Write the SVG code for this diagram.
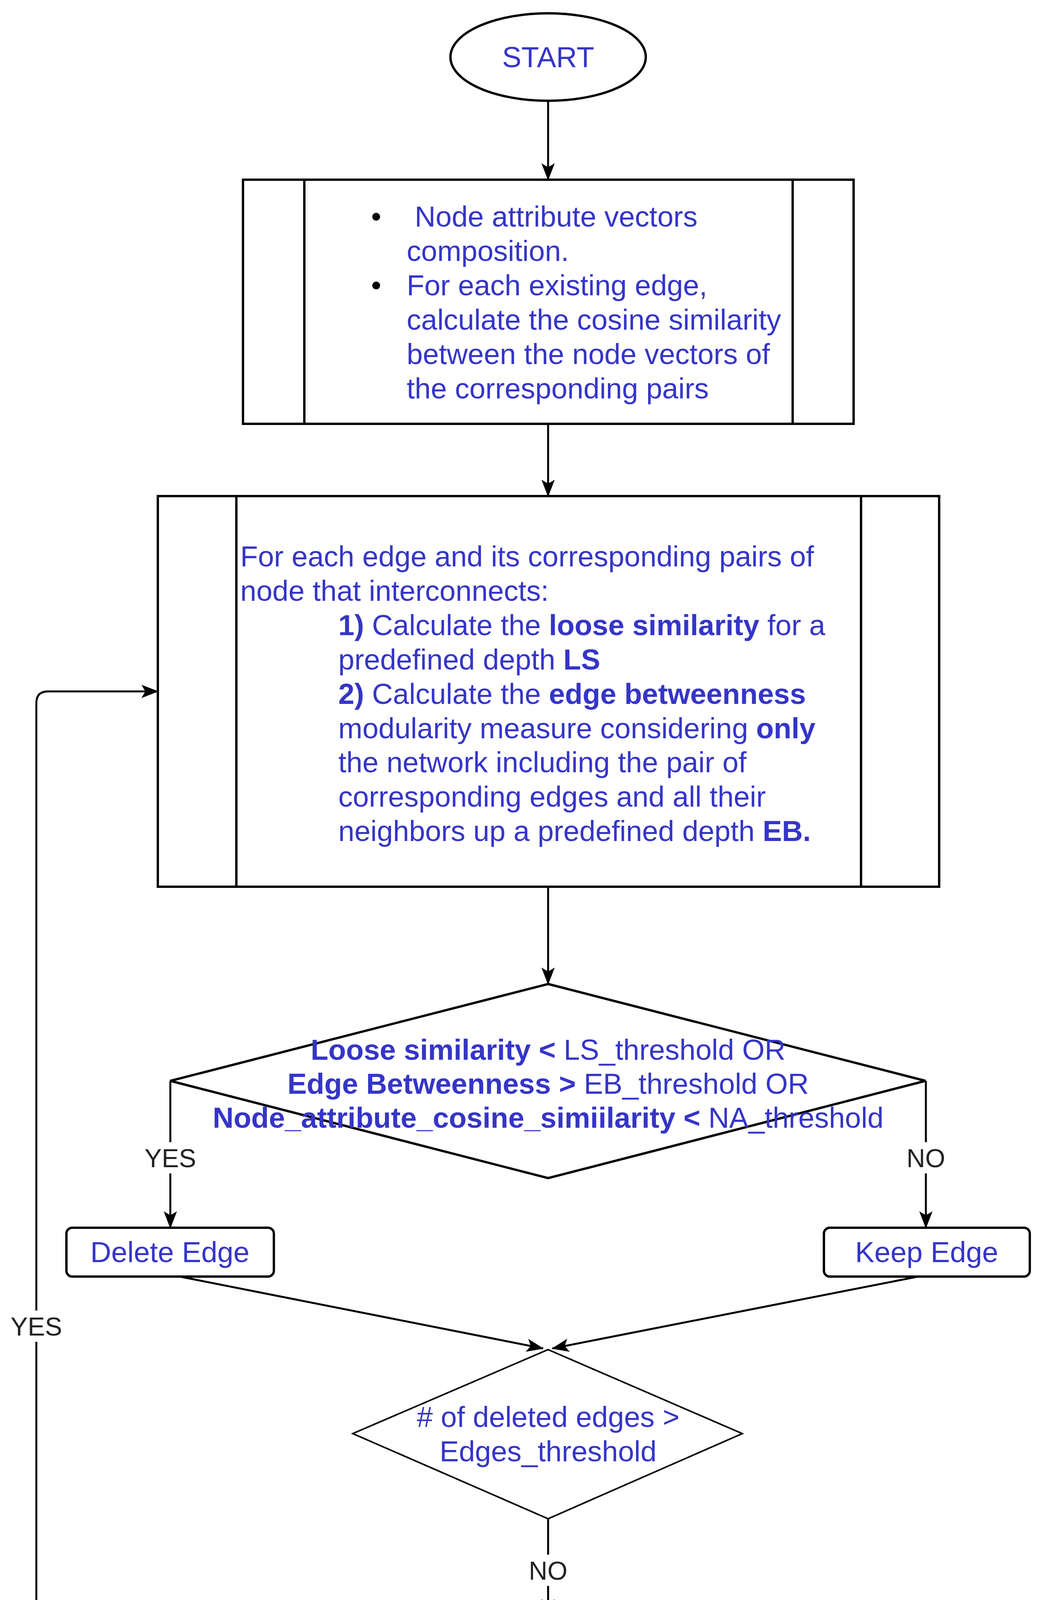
<svg xmlns="http://www.w3.org/2000/svg" width="2657" height="4424" viewBox="0 0 2657 4424">
<style>
.t{font-family:"Liberation Sans",Arial,sans-serif;font-size:74px;fill:#3535C8}
.b{font-weight:bold}
.c{text-anchor:middle}
.lbl{font-family:"Liberation Sans",Arial,sans-serif;font-size:66px;fill:#222;text-anchor:middle}
.shape{fill:#fff;stroke:#000;stroke-width:6}
.thin{stroke-width:4}
.edge{fill:none;stroke:#000;stroke-width:5}
.bul{font-family:"Liberation Sans",Arial,sans-serif;font-size:74px;fill:#000}
</style>
<defs>
<marker id="arr" markerUnits="userSpaceOnUse" viewBox="0 0 44 34" refX="42" refY="17" markerWidth="44" markerHeight="34" orient="auto"><path d="M0,0 L44,17 L0,34 L10,17 Z" fill="#000"/></marker>
</defs>
<rect width="2657" height="4424" fill="#fff"/>
<g id="connectors">
<path class="edge" d="M1403 258 V460" marker-end="url(#arr)"/>
<path class="edge" d="M1403 1085 V1270" marker-end="url(#arr)"/>
<path class="edge" d="M1403 2270 V2519" marker-end="url(#arr)"/>
<path class="edge" d="M436 2767 V3143" marker-end="url(#arr)"/>
<path class="edge" d="M2370 2767 V3143" marker-end="url(#arr)"/>
<path class="edge" d="M460 3268 L1390 3452" marker-end="url(#arr)"/>
<path class="edge" d="M2350 3268 L1414 3452" marker-end="url(#arr)"/>
<path class="edge" d="M1403 3888 V4136" marker-end="url(#arr)"/>
<path class="edge" d="M1153 4260 H123 Q93 4260 93 4230 V1800 Q93 1770 123 1770 H404" marker-end="url(#arr)"/>
<rect x="366" y="2924" width="140" height="80" fill="#fff"/>
<text class="lbl" x="436" y="2988">YES</text>
<rect x="2310" y="2924" width="120" height="80" fill="#fff"/>
<text class="lbl" x="2370" y="2988">NO</text>
<rect x="1343" y="3980" width="120" height="80" fill="#fff"/>
<text class="lbl" x="1403" y="4044">NO</text>
<rect x="23" y="3355" width="140" height="80" fill="#fff"/>
<text class="lbl" x="93" y="3419">YES</text>
</g>
<g id="start">
<ellipse class="shape" cx="1403" cy="146" rx="250" ry="112"/>
<text class="t c" x="1403" y="172">START</text>
</g>
<g id="box1">
<rect class="shape" x="622" y="460" width="1563" height="625"/>
<line x1="779" y1="460" x2="779" y2="1085" stroke="#000" stroke-width="6"/>
<line x1="2029" y1="460" x2="2029" y2="1085" stroke="#000" stroke-width="6"/>
<text class="bul" x="950" y="580">•</text>
<text class="bul" x="950" y="756">•</text>
<text class="t" x="1041" y="580" xml:space="preserve"> Node attribute vectors</text>
<text class="t" x="1041" y="668">composition.</text>
<text class="t" x="1041" y="756">For each existing edge,</text>
<text class="t" x="1041" y="844">calculate the cosine similarity</text>
<text class="t" x="1041" y="932">between the node vectors of</text>
<text class="t" x="1041" y="1020">the corresponding pairs</text>
</g>
<g id="box2">
<rect class="shape" x="404" y="1270" width="2000" height="1000"/>
<line x1="605" y1="1270" x2="605" y2="2270" stroke="#000" stroke-width="6"/>
<line x1="2204" y1="1270" x2="2204" y2="2270" stroke="#000" stroke-width="6"/>
<text class="t" x="615" y="1450">For each edge and its corresponding pairs of</text>
<text class="t" x="615" y="1538">node that interconnects:</text>
<text class="t" x="866" y="1626"><tspan class="b">1)</tspan> Calculate the <tspan class="b">loose similarity</tspan> for a</text>
<text class="t" x="866" y="1714">predefined depth <tspan class="b">LS</tspan></text>
<text class="t" x="866" y="1802"><tspan class="b">2)</tspan> Calculate the <tspan class="b">edge betweenness</tspan></text>
<text class="t" x="866" y="1890">modularity measure considering <tspan class="b">only</tspan></text>
<text class="t" x="866" y="1977">the network including the pair of</text>
<text class="t" x="866" y="2065">corresponding edges and all their</text>
<text class="t" x="866" y="2153">neighbors up a predefined depth <tspan class="b">EB.</tspan></text>
</g>
<g id="decision1">
<polygon class="shape" points="1403,2519 2369,2767 1403,3016 436,2767"/>
<text class="t c" x="1403" y="2713"><tspan class="b">Loose similarity &lt;</tspan> LS_threshold OR</text>
<text class="t c" x="1403" y="2800"><tspan class="b">Edge Betweenness &gt;</tspan> EB_threshold OR</text>
<text class="t c" x="1403" y="2887"><tspan class="b">Node_attribute_cosine_simiilarity &lt;</tspan> NA_threshold</text>
</g>
<g id="delete">
<rect class="shape" x="170" y="3143" width="531" height="125" rx="15"/>
<text class="t c" x="435" y="3231">Delete Edge</text>
</g>
<g id="keep">
<rect class="shape" x="2109" y="3143" width="527" height="125" rx="15"/>
<text class="t c" x="2372" y="3231">Keep Edge</text>
</g>
<g id="decision2">
<polygon class="shape thin" points="1403,3455 1900,3670 1403,3888 903,3670"/>
<text class="t c" x="1403" y="3653"># of deleted edges &gt;</text>
<text class="t c" x="1403" y="3741">Edges_threshold</text>
</g>
<g id="end">
<ellipse class="shape thin" cx="1403" cy="4260" rx="250" ry="124"/>
<text class="t c" x="1403" y="4286">END</text>
</g>
</svg>
